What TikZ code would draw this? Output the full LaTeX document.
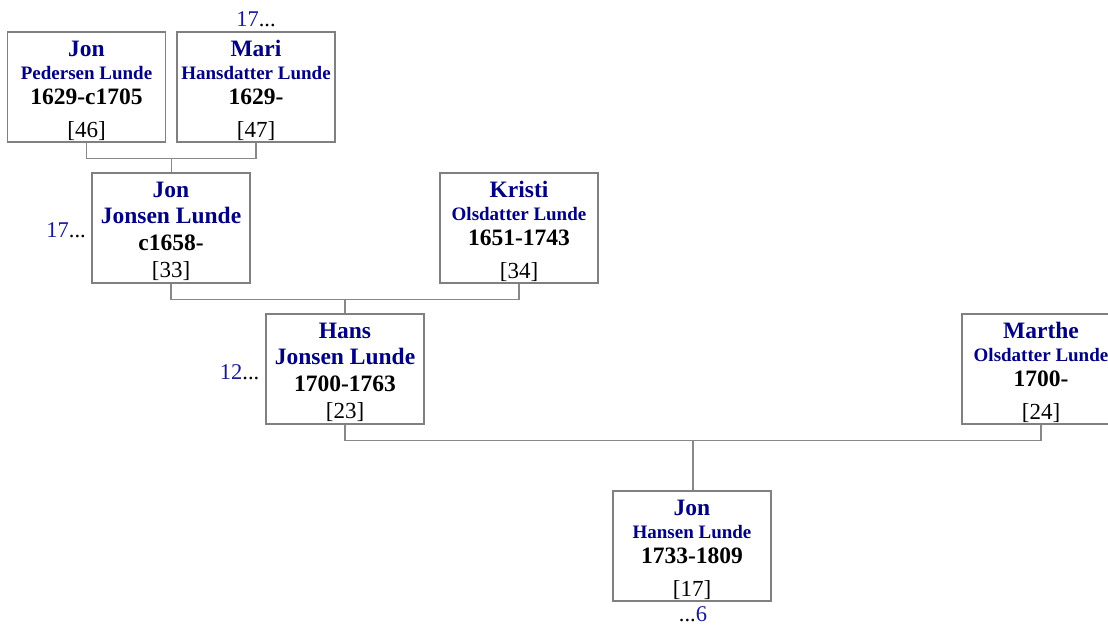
\documentclass[tikz,border=0pt]{standalone}
\usepackage{fontspec}
\setmainfont{Liberation Serif}
\usetikzlibrary{calc}
\definecolor{nameblue}{RGB}{0,0,128}
\definecolor{annblue}{RGB}{25,25,150}
\definecolor{boxgray}{RGB}{128,128,128}
\definecolor{linegray}{RGB}{136,136,136}
\tikzset{
  pbox/.style={draw=boxgray,line width=1.2pt,fill=white,minimum width=158pt,minimum height=110pt,inner sep=0pt},
  fname/.style={anchor=base,inner sep=0pt,text=nameblue,font=\fontsize{23.5}{26}\selectfont\bfseries},
  sname/.style={anchor=base,inner sep=0pt,text=nameblue,font=\fontsize{19}{22}\selectfont\bfseries},
  dates/.style={anchor=base,inner sep=0pt,text=black,font=\fontsize{23.5}{26}\selectfont\bfseries},
  pnum/.style={anchor=base,inner sep=0pt,text=black,font=\fontsize{23}{26}\selectfont},
  ann/.style={inner sep=0pt,text=black,font=\fontsize{22.5}{26}\selectfont},
  conn/.style={draw=linegray,line width=1.1pt}
}
% #1 id, #2 centre x, #3 top y, #4 first name, #5 second line, #6 dates, #7 number
\newcommand\smallperson[7]{%
  \node[pbox] (#1) at (#2,#3+55) {};
  \node[fname] (#1a) at (#2,#3+24.4) {#4};
  \node[sname] (#1b) at (#2,#3+47) {#5};
  \node[dates] (#1c) at (#2,#3+72) {#6};
  \node[pnum] (#1d) at (#2,#3+105) {[#7]};
}
\newcommand\bigperson[7]{%
  \node[pbox] (#1) at (#2,#3+55) {};
  \node[fname] (#1a) at (#2,#3+24.4) {#4};
  \node[fname] (#1b) at (#2,#3+50.7) {#5};
  \node[dates] (#1c) at (#2,#3+77.5) {#6};
  \node[pnum] (#1d) at (#2,#3+104.5) {[#7]};
}
\begin{document}
\begin{tikzpicture}[x=1pt,y=-1pt]
\useasboundingbox (0,0) rectangle (1108,626);
% connectors first (behind boxes)
\coordinate (c46) at (86.5,142);
\coordinate (c47) at (256,142);
\coordinate (c33) at (171,283);
\coordinate (c34) at (519,283);
\coordinate (c23) at (345,424);
\coordinate (c24) at (1041,424);

\smallperson{p46}{86.5}{32}{Jon}{Pedersen Lunde}{1629-c1705}{46}
\smallperson{p47}{256}{32}{Mari}{Hansdatter Lunde}{1629-}{47}
\bigperson{p33}{171}{173}{Jon}{Jonsen Lunde}{c1658-}{33}
\smallperson{p34}{519}{173}{Kristi}{Olsdatter Lunde}{1651-1743}{34}
\bigperson{p23}{345}{314}{Hans}{Jonsen Lunde}{1700-1763}{23}
\smallperson{p24}{1041}{314}{Marthe}{Olsdatter Lunde}{1700-}{24}
\smallperson{p17}{692}{491}{Jon}{Hansen Lunde}{1733-1809}{17}

\coordinate (m1) at ($(p46.south)!0.5!(p47.south)+(0,15.5)$);
\draw[conn] (p46.south) -- ++(0,15.5) -| (p47.south);
\draw[conn] (m1) -- (m1 |- p33.north);
\coordinate (m2) at ($(p33.south)!0.5!(p34.south)+(0,15.5)$);
\draw[conn] (p33.south) -- ++(0,15.5) -| (p34.south);
\draw[conn] (m2) -- (m2 |- p23.north);
\coordinate (m3) at ($(p23.south)!0.5!(p24.south)+(0,16)$);
\draw[conn] (p23.south) -- ++(0,16) -| (p24.south);
\draw[conn] (m3) -- (m3 |- p17.north);

% annotations
\node[ann,anchor=base] (a47) at (256,26.7) {\textcolor{annblue}{17}...};
\node[ann,anchor=base east] (a33) at (86,237.3) {\textcolor{annblue}{17}...};
\node[ann,anchor=base east] (a23) at (259.5,379) {\textcolor{annblue}{12}...};
\node[ann,anchor=base] (a17) at (693,621.5) {...\textcolor{annblue}{6}};
\end{tikzpicture}
\end{document}
